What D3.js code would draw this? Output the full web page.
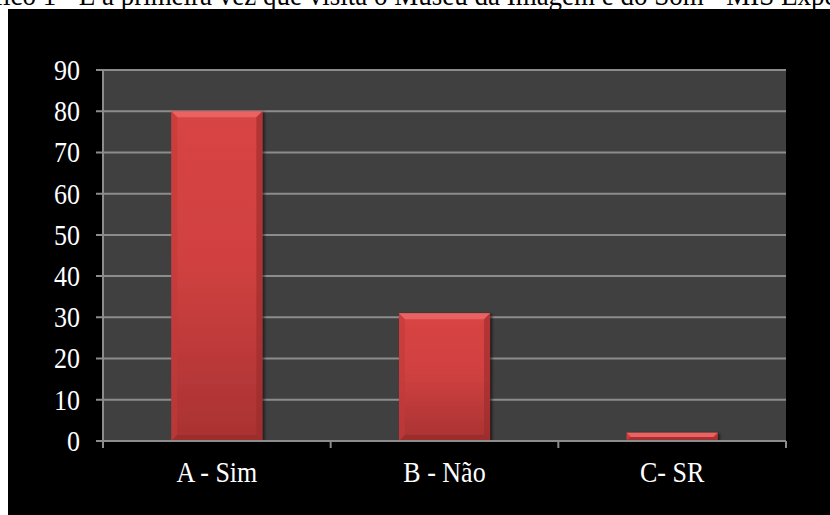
<!DOCTYPE html>
<html>
<head>
<meta charset="utf-8">
<script src="https://cdn.jsdelivr.net/npm/d3@7"></script>
<style>
html,body{margin:0;padding:0;background:#fff;overflow:hidden;}
svg{display:block;}
svg text{font-family:"Liberation Serif","Times New Roman",Times,serif;}
</style>
</head>
<body>
<svg id="chart" width="830" height="515"></svg>
<script>
const title = "Gráfico 1 - É a primeira vez que visita o Museu da Imagem e do Som - MIS Experience";
const categories = ["A - Sim", "B - Não", "C- SR"];
const values = [80, 31, 2];
const yTicks = [0, 10, 20, 30, 40, 50, 60, 70, 80, 90];

const svg = d3.select("#chart");
const W = 830, H = 515;
const SY = 1.12; // vertical stretch of the text in the reference

// title (clipped by page / chart box)
const titleSize = 27;
const pre = svg.append("text").attr("font-size", titleSize).text("Gráf");
const preW = pre.node().getComputedTextLength();
pre.remove();
svg.append("text")
  .attr("transform", `translate(${-preW + 3},5) scale(1,${SY})`)
  .attr("font-size", titleSize)
  .attr("fill", "#000")
  .text(title);

// black chart area
svg.append("rect").attr("x", 8).attr("y", 9).attr("width", W - 8).attr("height", H - 9).attr("fill", "#000");

const m = {l: 103, r: 786, t: 70, b: 441};
const x = d3.scaleBand().domain(categories).range([m.l, m.r]).paddingInner(0.6).paddingOuter(0.3);
const xb = d3.scaleBand().domain(categories).range([m.l, m.r]);
const y = d3.scaleLinear().domain([0, 90]).range([m.b, m.t]);

// plot area
svg.append("rect").attr("x", m.l).attr("y", m.t).attr("width", m.r - m.l).attr("height", m.b - m.t).attr("fill", "#404040");

const defs = svg.append("defs");
const g1 = defs.append("linearGradient").attr("id", "barg").attr("x1", 0).attr("y1", 0).attr("x2", 0).attr("y2", 1);
g1.append("stop").attr("offset", "0%").attr("stop-color", "#d84444");
g1.append("stop").attr("offset", "45%").attr("stop-color", "#d14141");
g1.append("stop").attr("offset", "100%").attr("stop-color", "#a93232");
const fl = defs.append("filter").attr("id", "sh").attr("x", "-20%").attr("y", "-20%").attr("width", "140%").attr("height", "140%");
fl.append("feDropShadow").attr("dx", 2).attr("dy", 1).attr("stdDeviation", 1.5).attr("flood-color", "#000").attr("flood-opacity", 0.6);

// gridlines
svg.append("g").selectAll("line").data(yTicks).join("line")
  .attr("x1", m.l - 7).attr("x2", m.r)
  .attr("y1", d => y(d)).attr("y2", d => y(d))
  .attr("stroke", "#8c8c8c").attr("stroke-width", 2);

// y axis line
svg.append("line").attr("x1", m.l).attr("x2", m.l).attr("y1", m.t).attr("y2", m.b + 7)
  .attr("stroke", "#8c8c8c").attr("stroke-width", 2);

// x ticks at band boundaries
const bounds = categories.map(c => xb(c)).concat([m.r]);
svg.append("g").selectAll("line").data(bounds).join("line")
  .attr("x1", d => d).attr("x2", d => d).attr("y1", m.b).attr("y2", m.b + 7)
  .attr("stroke", "#8c8c8c").attr("stroke-width", 2);

// y labels
svg.append("g").selectAll("text").data(yTicks).join("text")
  .attr("transform", d => `translate(80,${y(d)}) scale(1,${SY})`)
  .attr("dy", "0.34em")
  .attr("text-anchor", "end").attr("font-size", 26).attr("fill", "#fff")
  .text(d => d);

// bars
const bars = svg.append("g").selectAll("g").data(categories.map((c, i) => ({c, v: values[i]}))).join("g");
bars.append("rect")
  .attr("x", d => x(d.c)).attr("width", x.bandwidth())
  .attr("y", d => y(d.v)).attr("height", d => y(0) - y(d.v))
  .attr("fill", "url(#barg)").attr("filter", "url(#sh)");
bars.each(function(d) {
  const g = d3.select(this);
  const x0 = x(d.c), x1 = x0 + x.bandwidth(), y0 = y(d.v), y1 = y(0);
  const b = Math.min(6, (y1 - y0) / 2);
  g.append("polygon").attr("points", [[x0, y0], [x1, y0], [x1 - b, y0 + b], [x0 + b, y0 + b]].join(" ")).attr("fill", "#ea6262");
  g.append("polygon").attr("points", [[x0, y0], [x0 + b, y0 + b], [x0 + b, y1 - b], [x0, y1]].join(" ")).attr("fill", "#c23b3b").attr("opacity", 0.6);
  g.append("polygon").attr("points", [[x1, y0], [x1 - b, y0 + b], [x1 - b, y1 - b], [x1, y1]].join(" ")).attr("fill", "#9a2c2c").attr("opacity", 0.6);
  g.append("polygon").attr("points", [[x0, y1], [x0 + b, y1 - b], [x1 - b, y1 - b], [x1, y1]].join(" ")).attr("fill", "#8e2828").attr("opacity", 0.5);
});

// x axis line
svg.append("line").attr("x1", m.l).attr("x2", m.r).attr("y1", m.b).attr("y2", m.b)
  .attr("stroke", "#8c8c8c").attr("stroke-width", 2);

// x labels
svg.append("g").selectAll("text").data(categories).join("text")
  .attr("transform", d => `translate(${xb(d) + xb.bandwidth() / 2},482) scale(1,${SY})`)
  .attr("text-anchor", "middle").attr("font-size", 26).attr("fill", "#fff")
  .text(d => d);
</script>
</body>
</html>
